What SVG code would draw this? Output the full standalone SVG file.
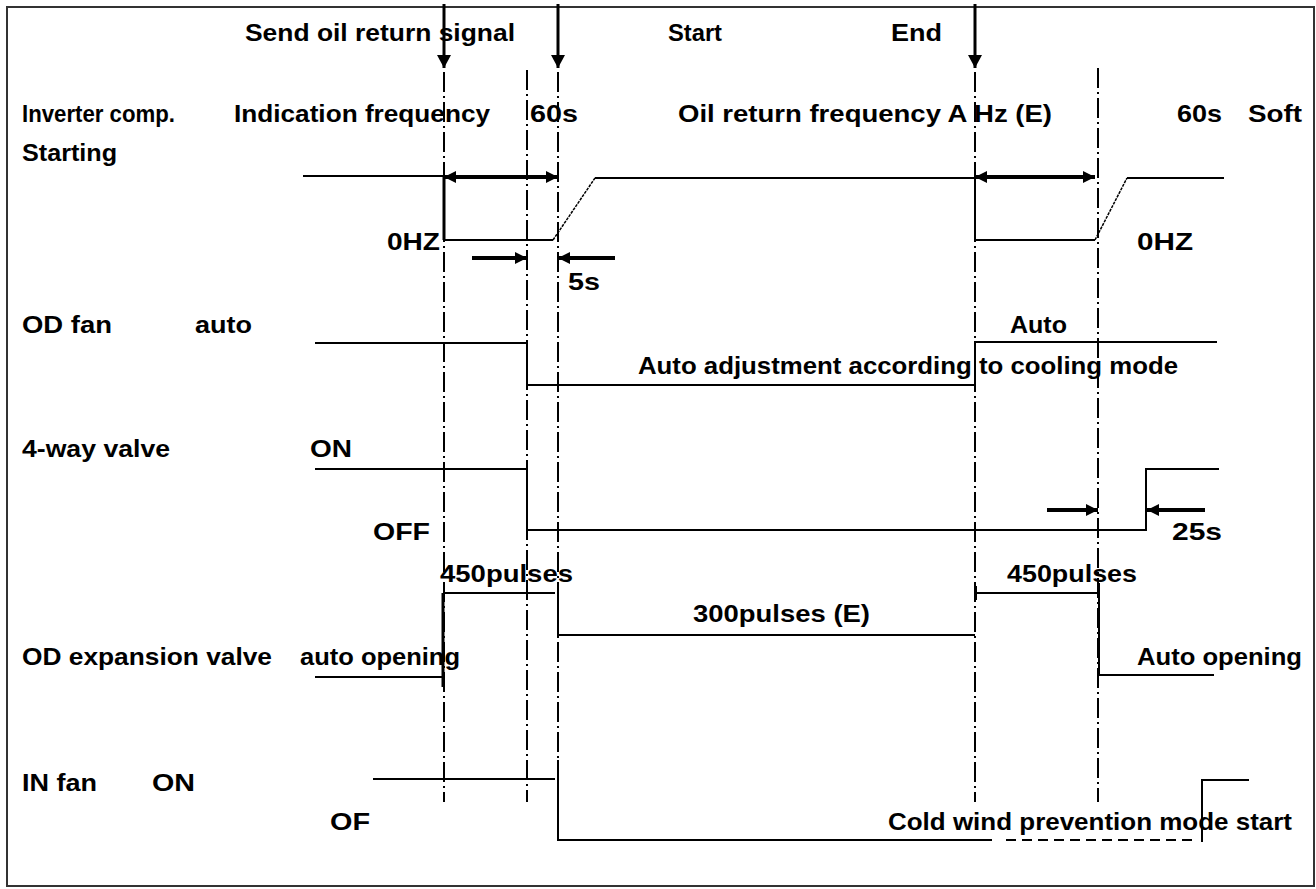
<svg xmlns="http://www.w3.org/2000/svg" width="1316" height="889" viewBox="0 0 1316 889">
<style>
text{font-family:"Liberation Sans",Arial,sans-serif;font-weight:bold;font-size:24px;fill:#000}
.sig{fill:none;stroke:#000;stroke-width:2}
.dd{fill:none;stroke:#000;stroke-width:2;stroke-dasharray:20 4 2 4}
.arr{fill:none;stroke:#000;stroke-width:3}
.dim{fill:none;stroke:#000;stroke-width:4}
</style>
<defs>
<marker id="ahBig" markerUnits="userSpaceOnUse" markerWidth="14" markerHeight="14" viewBox="0 0 14 14" refX="13" refY="7" orient="auto-start-reverse">
<path d="M0,0 L13,7 L0,14 Z" fill="#000"/>
</marker>
<marker id="ah" markerUnits="userSpaceOnUse" markerWidth="12" markerHeight="12" viewBox="0 0 12 12" refX="12" refY="6" orient="auto-start-reverse">
<path d="M0,0 L12,6 L0,12 Z" fill="#000"/>
</marker>
</defs>
<rect x="0" y="0" width="1316" height="889" fill="#fff"/>
<rect id="frame" x="7" y="7" width="1307" height="879" fill="none" stroke="#333" stroke-width="2"/>

<g id="connectors">
<line class="arr" x1="444" y1="4" x2="444" y2="68" marker-end="url(#ahBig)"/>
<line class="arr" x1="558" y1="4" x2="558" y2="68" marker-end="url(#ahBig)"/>
<line class="arr" x1="975" y1="4" x2="975" y2="68" marker-end="url(#ahBig)"/>
<line class="dd" x1="444" y1="72" x2="444" y2="802"/>
<line class="dd" x1="527" y1="70" x2="527" y2="802"/>
<line class="dd" x1="558" y1="72" x2="558" y2="760"/>
<line class="dd" x1="975" y1="72" x2="975" y2="802"/>
<line class="dd" x1="1098" y1="68" x2="1098" y2="802"/>
<line class="dim" x1="444" y1="177" x2="558" y2="177" marker-start="url(#ah)" marker-end="url(#ah)"/>
<line class="dim" x1="975" y1="177" x2="1095" y2="177" marker-start="url(#ah)" marker-end="url(#ah)"/>
<line class="dim" x1="472" y1="258" x2="527" y2="258" marker-end="url(#ah)"/>
<line class="dim" x1="615" y1="258" x2="558" y2="258" marker-end="url(#ah)"/>
<line class="dim" x1="1047" y1="510" x2="1098" y2="510" marker-end="url(#ah)"/>
<line class="dim" x1="1205" y1="510" x2="1147" y2="510" marker-end="url(#ah)"/>
</g>

<g id="inverter-comp">
<polyline class="sig" points="303,176 444,176"/>
<line x1="444" y1="176" x2="444" y2="240" stroke="#000" stroke-width="3"/>
<polyline class="sig" points="444,240 553,240"/>
<line x1="553" y1="240" x2="595" y2="178" stroke="#000" stroke-width="1.5" stroke-dasharray="3 1"/>
<polyline class="sig" points="595,178 975,178 975,240 1095,240"/>
<line x1="1095" y1="240" x2="1127" y2="178" stroke="#000" stroke-width="1.5" stroke-dasharray="3 1"/>
<polyline class="sig" points="1127,178 1224,178"/>
<text x="22" y="122" textLength="153" lengthAdjust="spacingAndGlyphs">Inverter comp.</text>
<text x="234" y="122" textLength="256" lengthAdjust="spacingAndGlyphs">Indication frequency</text>
<text x="530" y="122" textLength="48" lengthAdjust="spacingAndGlyphs">60s</text>
<text x="678" y="122" textLength="374" lengthAdjust="spacingAndGlyphs">Oil return frequency A Hz (E)</text>
<text x="1177" y="122" textLength="45" lengthAdjust="spacingAndGlyphs">60s</text>
<text x="1248" y="122" textLength="54" lengthAdjust="spacingAndGlyphs">Soft</text>
<text x="22" y="161" textLength="95" lengthAdjust="spacingAndGlyphs">Starting</text>
<text x="387" y="250" textLength="53" lengthAdjust="spacingAndGlyphs">0HZ</text>
<text x="1137" y="250" textLength="56" lengthAdjust="spacingAndGlyphs">0HZ</text>
<text x="568" y="290" textLength="32" lengthAdjust="spacingAndGlyphs">5s</text>
</g>

<g id="events">
<text x="245" y="41" textLength="270" lengthAdjust="spacingAndGlyphs">Send oil return signal</text>
<text x="668" y="41" textLength="54" lengthAdjust="spacingAndGlyphs">Start</text>
<text x="891" y="41" textLength="51" lengthAdjust="spacingAndGlyphs">End</text>
</g>

<g id="od-fan">
<polyline class="sig" points="315,343 527,343 527,385 975,385 975,342 1217,342"/>
<text x="22" y="333" textLength="90" lengthAdjust="spacingAndGlyphs">OD fan</text>
<text x="195" y="333" textLength="57" lengthAdjust="spacingAndGlyphs">auto</text>
<text x="1010" y="333" textLength="57" lengthAdjust="spacingAndGlyphs">Auto</text>
<text x="638" y="374" textLength="540" lengthAdjust="spacingAndGlyphs">Auto adjustment according to cooling mode</text>
</g>

<g id="four-way-valve">
<polyline class="sig" points="315,469 527,469 527,530 1146,530 1146,469 1219,469"/>
<text x="22" y="457" textLength="148" lengthAdjust="spacingAndGlyphs">4-way valve</text>
<text x="310" y="457" textLength="42" lengthAdjust="spacingAndGlyphs">ON</text>
<text x="373" y="540" textLength="57" lengthAdjust="spacingAndGlyphs">OFF</text>
<text x="1172" y="540" textLength="50" lengthAdjust="spacingAndGlyphs">25s</text>
</g>

<g id="od-expansion-valve">
<polyline class="sig" points="315,677 443,677"/>
<line x1="443" y1="593" x2="443" y2="687" stroke="#000" stroke-width="3"/>
<polyline class="sig" points="443,593 555,593"/>
<polyline class="sig" points="558,590 558,635 975,635"/>
<polyline class="sig" points="976,586 976,600"/>
<polyline class="sig" points="976,593 1099,593"/>
<polyline class="sig" points="1099,583 1099,675 1214,675"/>
<text x="440" y="582" textLength="133" lengthAdjust="spacingAndGlyphs">450pulses</text>
<text x="1007" y="582" textLength="130" lengthAdjust="spacingAndGlyphs">450pulses</text>
<text x="693" y="622" textLength="177" lengthAdjust="spacingAndGlyphs">300pulses (E)</text>
<text x="22" y="665" textLength="250" lengthAdjust="spacingAndGlyphs">OD expansion valve</text>
<text x="300" y="665" textLength="160" lengthAdjust="spacingAndGlyphs">auto opening</text>
<text x="1137" y="665" textLength="165" lengthAdjust="spacingAndGlyphs">Auto opening</text>
</g>

<g id="in-fan">
<polyline class="sig" points="373,779 555,779"/>
<polyline class="sig" points="558,760 558,840 992,840"/>
<line x1="1006" y1="840" x2="1198" y2="840" stroke="#000" stroke-width="2" stroke-dasharray="10 6"/>
<polyline class="sig" points="1202,842 1202,780 1249,780"/>
<text x="22" y="791" textLength="75" lengthAdjust="spacingAndGlyphs">IN fan</text>
<text x="152" y="791" textLength="43" lengthAdjust="spacingAndGlyphs">ON</text>
<text x="330" y="830" textLength="40" lengthAdjust="spacingAndGlyphs">OF</text>
<text x="888" y="830" textLength="404" lengthAdjust="spacingAndGlyphs">Cold wind prevention mode start</text>
</g>
</svg>
